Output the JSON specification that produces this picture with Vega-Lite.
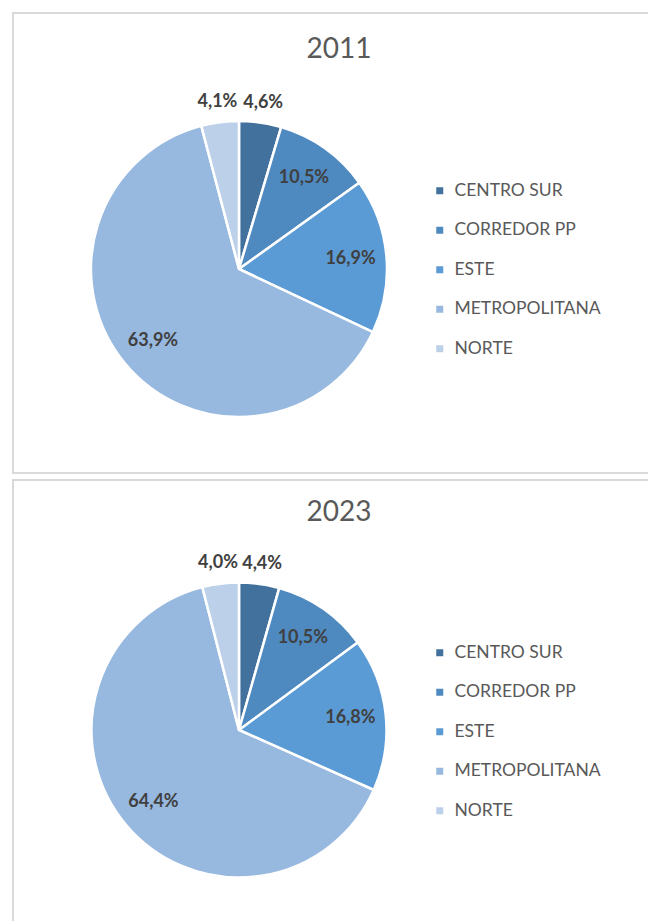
{
  "$schema": "https://vega.github.io/schema/vega-lite/v6.json",
  "padding": {"left": 12, "top": 12, "right": 0, "bottom": 0},
  "background": "white",
  "config": {
    "font": "Lato",
    "view": {"stroke": "#d9d9d9", "strokeWidth": 2},
    "title": {"font": "Lato", "fontSize": 28, "fontWeight": "normal", "color": "#595959", "anchor": "middle", "offset": -51},
    "legend": {
      "orient": "none", "legendX": 418, "title": null,
      "labelFont": "Lato", "labelFontSize": 17.5, "labelColor": "#595959",
      "symbolType": "square", "symbolSize": 49, "symbolStrokeWidth": 0,
      "rowPadding": 20.5, "labelOffset": 6
    },
    "concat": {"spacing": 5}
  },
  "datasets": {
    "d2011": [
      {"region": "CENTRO SUR", "share": 4.6, "label": "4,6%"},
      {"region": "CORREDOR PP", "share": 10.5, "label": "10,5%"},
      {"region": "ESTE", "share": 16.9, "label": "16,9%"},
      {"region": "METROPOLITANA", "share": 63.9, "label": "63,9%"},
      {"region": "NORTE", "share": 4.1, "label": "4,1%"}
    ],
    "d2023": [
      {"region": "CENTRO SUR", "share": 4.4, "label": "4,4%"},
      {"region": "CORREDOR PP", "share": 10.5, "label": "10,5%"},
      {"region": "ESTE", "share": 16.8, "label": "16,8%"},
      {"region": "METROPOLITANA", "share": 64.4, "label": "64,4%"},
      {"region": "NORTE", "share": 4.0, "label": "4,0%"}
    ]
  },
  "vconcat": [
    {
      "width": 652, "height": 460,
      "view": {"stroke": "#d9d9d9", "strokeWidth": 2},
      "title": "2011",
      "data": {"name": "d2011"},
      "encoding": {
        "theta": {"field": "share", "type": "quantitative", "stack": true},
        "order": {"field": "region", "sort": "ascending"}
      },
      "layer": [
        {"mark": {"type": "arc", "x": 226, "y": 256, "outerRadius": 148, "stroke": "white", "strokeWidth": 2.5},
         "encoding": {
          "color": {
            "field": "region", "type": "nominal",
            "scale": {"domain": ["CENTRO SUR", "CORREDOR PP", "ESTE", "METROPOLITANA", "NORTE"],
                      "range": ["#41719c", "#4e89c0", "#5b9bd5", "#97b8df", "#bcd0ea"]},
            "legend": {"legendY": 169}
          }
         }},
        {"mark": {"type": "text", "x": 226, "y": 256, "radius": {"expr": "datum.share < 6 ? 168 : 112"},
                  "font": "Lato", "fontSize": 18, "fontWeight": "bold", "fill": "#404040"},
         "encoding": {"text": {"field": "label"}}}
      ]
    },
    {
      "width": 652, "height": 460,
      "view": {"stroke": "#d9d9d9", "strokeWidth": 2},
      "title": {"text": "2023", "offset": -47},
      "data": {"name": "d2023"},
      "encoding": {
        "theta": {"field": "share", "type": "quantitative", "stack": true},
        "order": {"field": "region", "sort": "ascending"}
      },
      "layer": [
        {"mark": {"type": "arc", "x": 226, "y": 250, "outerRadius": 147.5, "stroke": "white", "strokeWidth": 2.5},
         "encoding": {
          "color": {
            "field": "region", "type": "nominal",
            "scale": {"domain": ["CENTRO SUR", "CORREDOR PP", "ESTE", "METROPOLITANA", "NORTE"],
                      "range": ["#41719c", "#4e89c0", "#5b9bd5", "#97b8df", "#bcd0ea"]},
            "legend": {"legendY": 164}
          }
         }},
        {"mark": {"type": "text", "x": 226, "y": 250, "radius": {"expr": "datum.share < 6 ? 168 : 112"},
                  "font": "Lato", "fontSize": 18, "fontWeight": "bold", "fill": "#404040"},
         "encoding": {"text": {"field": "label"}}}
      ]
    }
  ],
  "resolve": {"scale": {"color": "independent"}, "legend": {"color": "independent"}}
}
